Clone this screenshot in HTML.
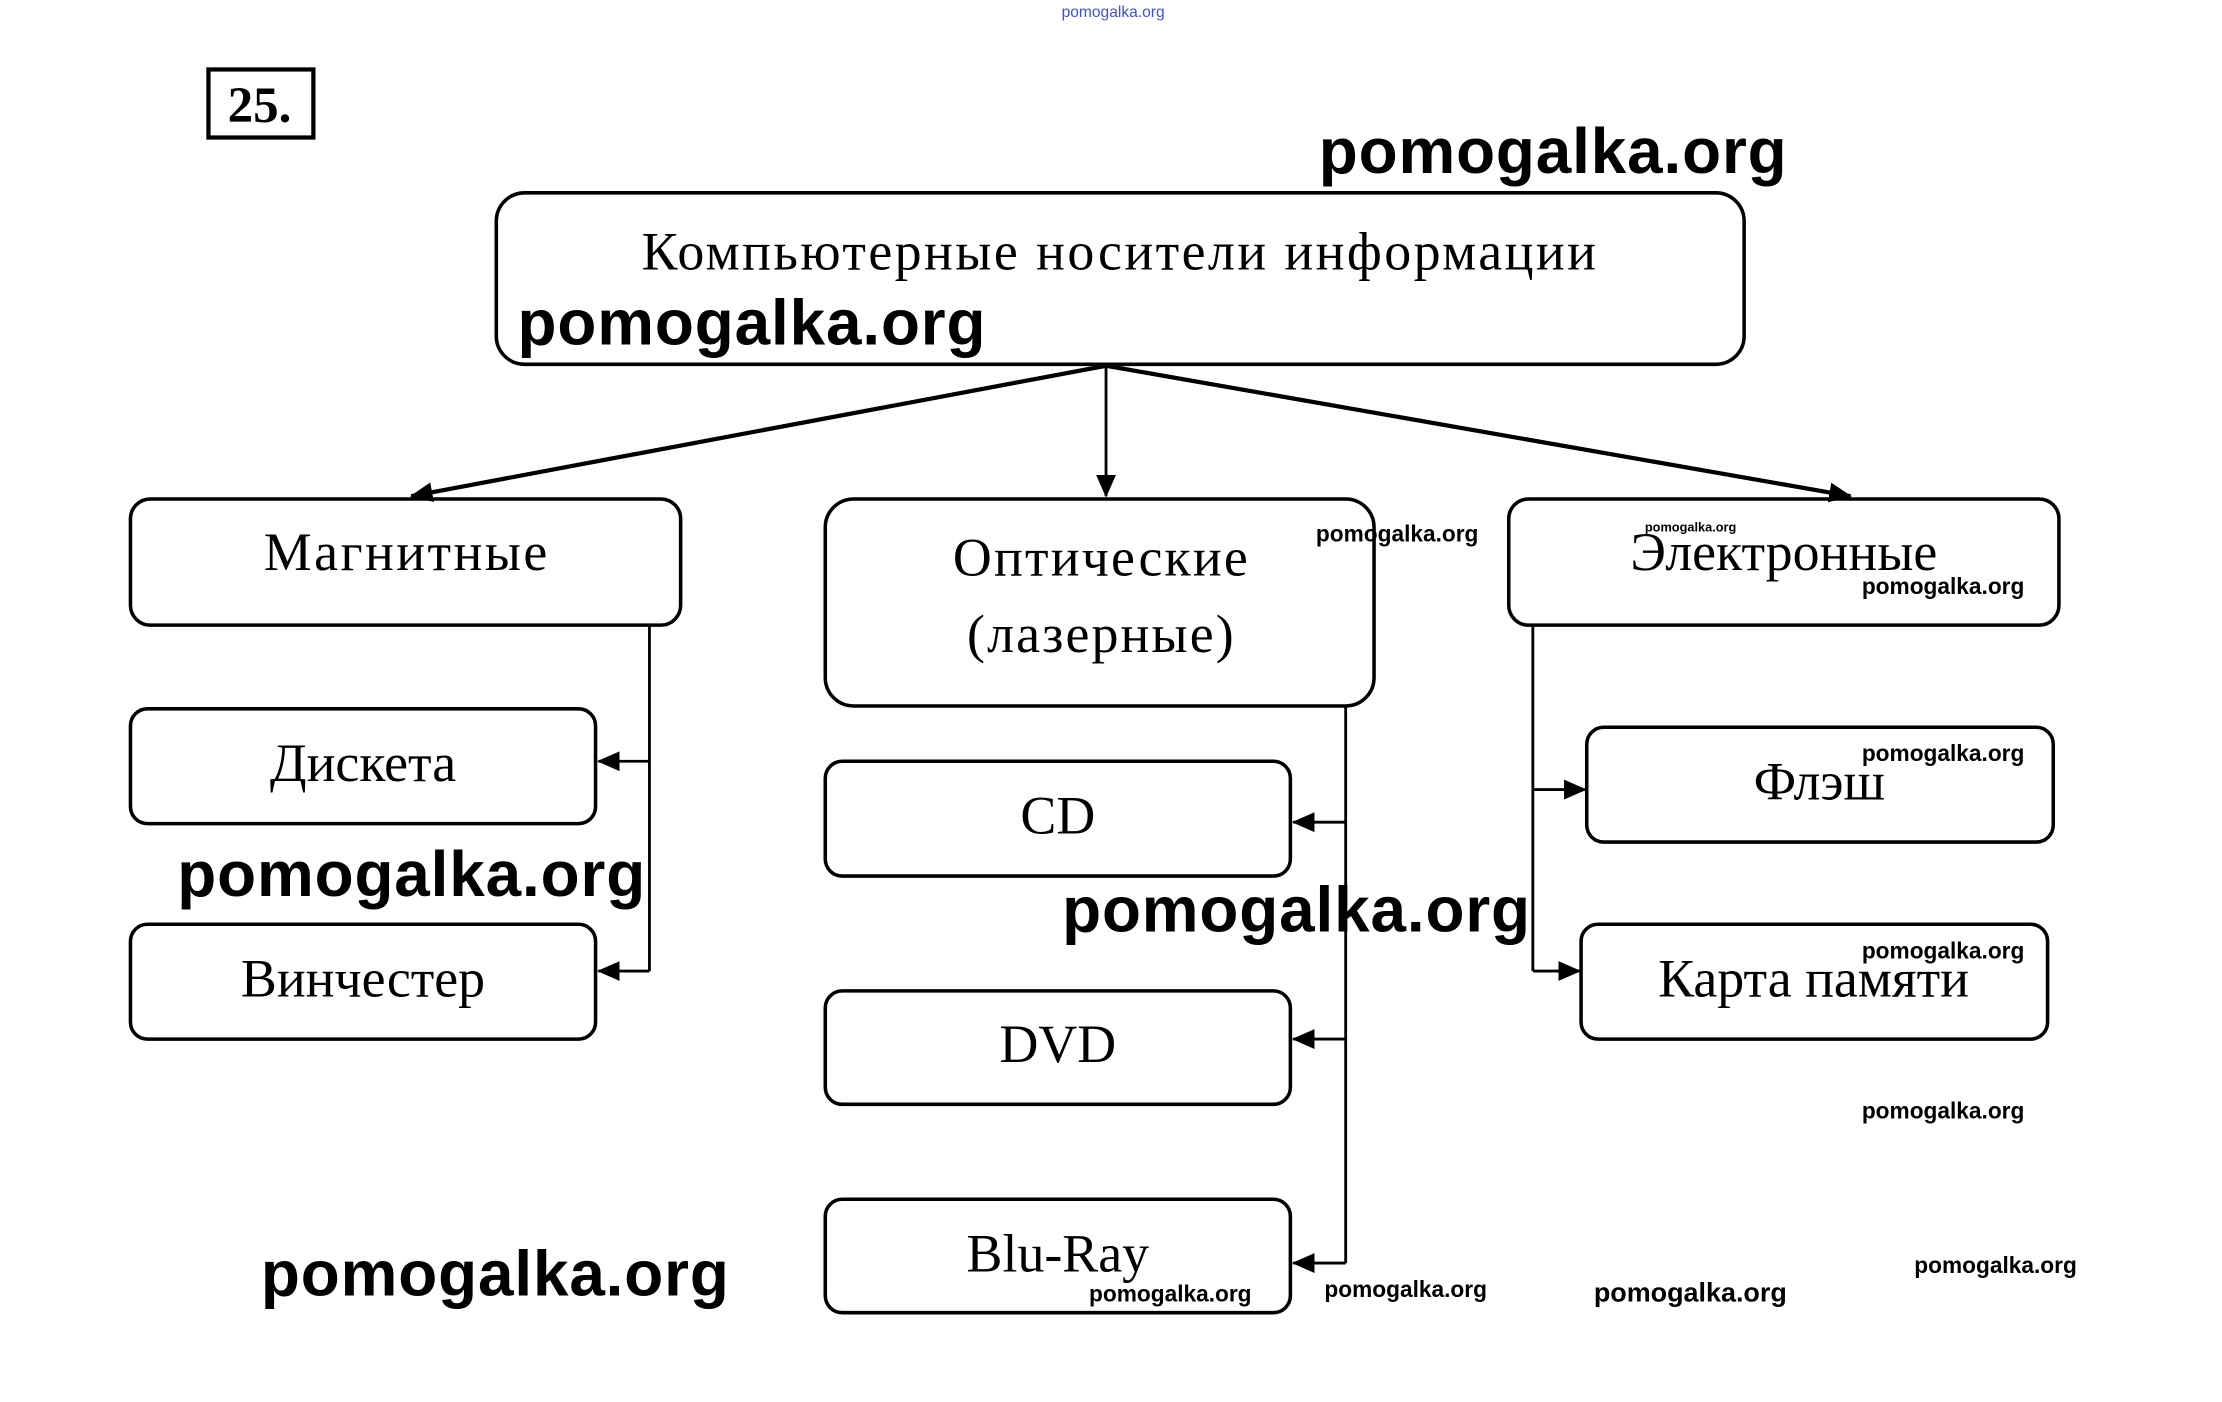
<!DOCTYPE html>
<html><head><meta charset="utf-8"><style>
html,body{margin:0;padding:0;background:#fff;width:2222px;height:1402px;overflow:hidden}
svg{display:block}
.t{font-family:"Liberation Serif",serif;font-size:38px;fill:#000;text-anchor:middle}
.w{font-family:"Liberation Sans","DejaVu Sans",sans-serif;font-weight:bold;fill:#000}
</style></head><body>
<svg width="2222" height="1402" viewBox="0 0 1567 989" preserveAspectRatio="none" xmlns="http://www.w3.org/2000/svg">
<defs>
<marker id="b" markerWidth="16" markerHeight="14" refX="15" refY="7" orient="auto" markerUnits="userSpaceOnUse"><path d="M0,0 L16,7 L0,14 z" fill="#000"/></marker></defs>
<text x="785" y="12" font-family="Liberation Sans,sans-serif" font-size="11" fill="#4050d0" text-anchor="middle">pomogalka.org</text>
<rect x="147" y="49" width="74" height="48" fill="none" stroke="#000" stroke-width="3"/>
<text x="183" y="86" font-family="Liberation Serif,serif" font-weight="bold" font-size="36" text-anchor="middle">25.</text>
<g fill="none" stroke="#000" stroke-width="2.5">
<rect x="350" y="136" width="880" height="121" rx="20"/>
<rect x="92" y="352" width="388" height="89" rx="14"/>
<rect x="582" y="352" width="387" height="146" rx="20"/>
<rect x="1064" y="352" width="388" height="89" rx="14"/>
<rect x="92" y="500" width="328" height="81" rx="12"/>
<rect x="92" y="652" width="328" height="81" rx="12"/>
<rect x="582" y="537" width="328" height="81" rx="12"/>
<rect x="582" y="699" width="328" height="80" rx="12"/>
<rect x="582" y="846" width="328" height="80" rx="12"/>
<rect x="1119" y="513" width="329" height="81" rx="12"/>
<rect x="1115" y="652" width="329" height="81" rx="12"/>
</g>
<g stroke="#000" stroke-width="3" fill="none">
<line x1="780" y1="258" x2="290" y2="350" marker-end="url(#b)"/>
<line x1="780" y1="258" x2="780" y2="350" stroke-width="2" marker-end="url(#b)"/>
<line x1="780" y1="258" x2="1305" y2="350" marker-end="url(#b)"/>
</g>
<g stroke="#000" stroke-width="2" fill="none">
<polyline points="458,441 458,685"/>
<line x1="458" y1="537" x2="422" y2="537" marker-end="url(#b)"/>
<line x1="458" y1="685" x2="422" y2="685" marker-end="url(#b)"/>
<polyline points="949,498 949,891"/>
<line x1="949" y1="580" x2="912" y2="580" marker-end="url(#b)"/>
<line x1="949" y1="733" x2="912" y2="733" marker-end="url(#b)"/>
<line x1="949" y1="891" x2="912" y2="891" marker-end="url(#b)"/>
<polyline points="1081,441 1081,685"/>
<line x1="1081" y1="557" x2="1118" y2="557" marker-end="url(#b)"/>
<line x1="1081" y1="685" x2="1114" y2="685" marker-end="url(#b)"/>
</g>
<text class="t" x="789" y="190" textLength="673">Компьютерные носители информации</text>
<text class="t" x="286" y="402" textLength="200">Магнитные</text>
<text class="t" x="776" y="406" textLength="208">Оптические</text>
<text class="t" x="776" y="460" textLength="188">(лазерные)</text>
<text class="t" x="1258" y="402">Электронные</text>
<text class="t" x="256" y="551">Дискета</text>
<text class="t" x="256" y="703">Винчестер</text>
<text class="t" x="746" y="588">CD</text>
<text class="t" x="746" y="749">DVD</text>
<text class="t" x="746" y="897">Blu-Ray</text>
<text class="t" x="1283" y="564">Флэш</text>
<text class="t" x="1279" y="703">Карта памяти</text>
<g class="w" font-size="45">
<text x="930" y="122" textLength="330">pomogalka.org</text>
<text x="365" y="243" textLength="330">pomogalka.org</text>
<text x="125" y="632" textLength="330">pomogalka.org</text>
<text x="749" y="657" textLength="330">pomogalka.org</text>
<text x="184" y="914" textLength="330">pomogalka.org</text>
</g>
<g class="w" font-size="16" font-weight="normal">
<text x="928" y="382">pomogalka.org</text>
<text x="1313" y="419">pomogalka.org</text>
<text x="1313" y="537">pomogalka.org</text>
<text x="1313" y="676">pomogalka.org</text>
<text x="1313" y="789">pomogalka.org</text>
<text x="1350" y="898">pomogalka.org</text>
<text x="1124" y="918" font-size="19">pomogalka.org</text>
<text x="934" y="915">pomogalka.org</text>
<text x="768" y="918">pomogalka.org</text>
<text x="1160" y="375" font-size="9">pomogalka.org</text>
</g>
</svg>
</body></html>
